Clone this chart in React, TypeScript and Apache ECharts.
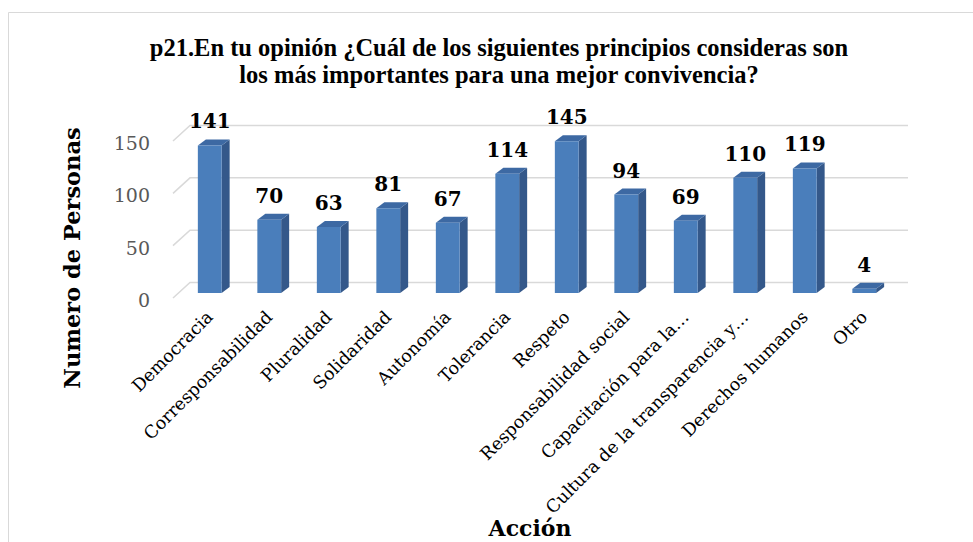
import React, { useEffect, useRef } from "react";
import * as echarts from "echarts";

const categories = [
  "Democracia",
  "Corresponsabilidad",
  "Pluralidad",
  "Solidaridad",
  "Autonomía",
  "Tolerancia",
  "Respeto",
  "Responsabilidad social",
  "Capacitación para la…",
  "Cultura de la transparencia y…",
  "Derechos humanos",
  "Otro",
];
const values = [141, 70, 63, 81, 67, 114, 145, 94, 69, 110, 119, 4];
const yTicks = [0, 50, 100, 150];
const titleLines = [
  "p21.En tu opinión ¿Cuál de los siguientes principios consideras son",
  "los más importantes para una mejor convivencia?",
];
const yTitle = "Numero de Personas";
const xTitle = "Acción";

const SERIF = "'DejaVu Serif', serif";

export default function App() {
  const ref = useRef<HTMLDivElement>(null);
  useEffect(() => {
    if (!ref.current) return;
    const chart = echarts.init(ref.current, undefined, { renderer: "svg" });
    const DX = 8;
    const DY = 6;
    const option: any = {
      animation: false,
      backgroundColor: "#ffffff",
      graphic: [
        {
          type: "rect",
          shape: { x: 8.5, y: 12.5, width: 1100, height: 700 },
          style: { fill: "none", stroke: "#d9d9d9", lineWidth: 1 },
          z: -10,
          silent: true,
        },
        {
          type: "text",
          x: 499,
          y: 61,
          style: {
            text: titleLines.join("\n"),
            font: "bold 24.5px 'Liberation Serif', serif",
            fill: "#000",
            align: "center",
            verticalAlign: "middle",
            lineHeight: 27,
          },
        },
        {
          type: "text",
          x: 72,
          y: 258,
          rotation: Math.PI / 2,
          style: {
            text: yTitle,
            font: "bold 22.5px " + SERIF,
            fill: "#000",
            align: "center",
            verticalAlign: "middle",
          },
        },
        {
          type: "text",
          x: 530,
          y: 528,
          style: {
            text: xTitle,
            font: "bold 22px " + SERIF,
            fill: "#000",
            align: "center",
            verticalAlign: "middle",
          },
        },
      ],
      grid: { left: 180, right: 79, top: 136, bottom: 249 },
      xAxis: {
        type: "category",
        data: categories,
        axisLine: { show: false },
        axisTick: { show: false },
        axisLabel: {
          rotate: 45,
          interval: 0,
          margin: 21,
          fontFamily: SERIF,
          fontSize: 17.5,
          color: "#000",
        },
      },
      yAxis: {
        type: "value",
        min: 0,
        max: 150,
        interval: 50,
        splitLine: { show: false },
        axisLine: { show: false },
        axisTick: { show: false },
        axisLabel: { show: false },
      },
      series: [
        {
          type: "custom",
          z: 1,
          silent: true,
          data: yTicks.map((v) => [0, v]),
          renderItem: (params: any, api: any) => {
            const cs = params.coordSys;
            const v = api.value(1);
            const y = api.coord([0, v])[1];
            return {
              type: "group",
              children: [
                {
                  type: "polyline",
                  shape: {
                    points: [
                      [cs.x - 7, y + 5],
                      [cs.x + 10, y - 10.5],
                      [cs.x + cs.width + 14, y - 10.5],
                    ],
                  },
                  style: { stroke: "#d9d9d9", lineWidth: 1.5, fill: "none" },
                },
                {
                  type: "text",
                  x: cs.x - 30,
                  y: y + 7,
                  style: {
                    text: String(v),
                    font: "19px " + SERIF,
                    fill: "#595959",
                    align: "right",
                    verticalAlign: "middle",
                  },
                },
              ],
            };
          },
        },
        {
          type: "custom",
          z: 2,
          data: values.map((v, i) => [i, v]),
          renderItem: (params: any, api: any) => {
            const idx = api.value(0);
            const val = api.value(1);
            const top = api.coord([idx, val]);
            const base = api.coord([idx, 0]);
            const w = api.size([1, 0])[0] * 0.4;
            const cx = top[0];
            const x0 = cx - w / 2;
            const x1 = cx + w / 2;
            const yT = top[1];
            const yB = base[1];
            return {
              type: "group",
              children: [
                {
                  type: "polygon",
                  shape: {
                    points: [
                      [x1, yT],
                      [x1 + DX, yT - DY],
                      [x1 + DX, yB - DY],
                      [x1, yB],
                    ],
                  },
                  style: { fill: "#34588a" },
                },
                {
                  type: "polygon",
                  shape: {
                    points: [
                      [x0, yT],
                      [x0 + DX, yT - DY],
                      [x1 + DX, yT - DY],
                      [x1, yT],
                    ],
                  },
                  style: { fill: "#3d69a3" },
                },
                {
                  type: "rect",
                  shape: { x: x0, y: yT, width: w, height: yB - yT },
                  style: { fill: "#4a7ebb" },
                },
                {
                  type: "text",
                  x: cx,
                  y: yT - 24,
                  style: {
                    text: String(val),
                    font: "bold 20px " + SERIF,
                    fill: "#000",
                    align: "center",
                    verticalAlign: "middle",
                  },
                },
              ],
            };
          },
        },
      ],
    };
    chart.setOption(option);
    return () => chart.dispose();
  }, []);
  return (
    <div
      ref={ref}
      style={{ position: "absolute", left: 0, top: 0, width: 973, height: 542 }}
    />
  );
}
